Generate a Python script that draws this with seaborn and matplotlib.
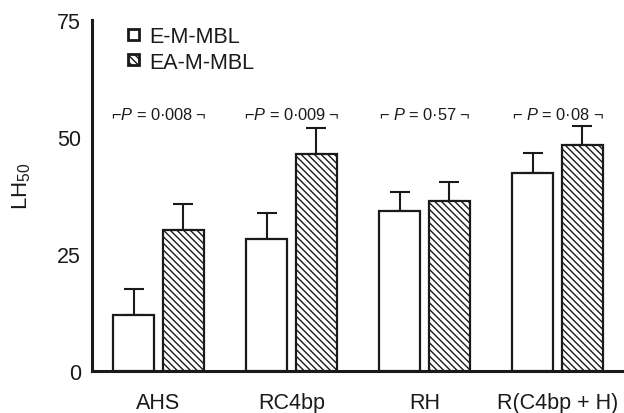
import matplotlib
matplotlib.use("Agg")
import matplotlib.pyplot as plt
import seaborn as sns
import pandas as pd
import numpy as np

# ---- data ----
groups = ["AHS", "RC4bp", "RH", "R(C4bp + H)"]
series_names = ["E-M-MBL", "EA-M-MBL"]
e_values = [12.0, 28.2, 34.2, 42.2]
e_errors = [5.5, 5.5, 4.1, 4.3]
ea_values = [30.0, 46.3, 36.2, 48.3]
ea_errors = [5.6, 5.5, 4.1, 4.0]
p_labels = ["⌐$\\it{P}$ = 0·008\u2009¬", "⌐$\\it{P}$ = 0·009\u2009¬",
            "⌐ $\\it{P}$ = 0·57 ¬", "⌐ $\\it{P}$ = 0·08 ¬"]
p_y = 55
y_major = [0, 25, 50, 75]

sns.set_theme(style="white")
plt.rcParams["font.family"] = ["Liberation Sans", "DejaVu Sans"]
plt.rcParams["mathtext.fontset"] = "custom"
plt.rcParams["mathtext.rm"] = "Liberation Sans"
plt.rcParams["mathtext.it"] = "Liberation Sans:italic"
plt.rcParams["mathtext.default"] = "regular"
plt.rcParams["hatch.color"] = "#1a1a1a"
plt.rcParams["hatch.linewidth"] = 1.0

df = pd.DataFrame({
    "group": groups * 2,
    "series": [series_names[0]] * 4 + [series_names[1]] * 4,
    "value": e_values + ea_values,
})

fig = plt.figure(figsize=(6.24, 4.14), dpi=100)
ax = fig.add_axes([92 / 624, 42.3 / 414, 532 / 624, 350.7 / 414])

sns.barplot(data=df, x="group", y="value", hue="series", order=groups,
            hue_order=series_names, palette=["white", "white"],
            edgecolor="#1a1a1a", linewidth=1.6, width=0.75, gap=0.165,
            errorbar=None, legend=False, ax=ax, zorder=3)

hatches = ["", "\\\\\\\\\\"]
errs = [e_errors, ea_errors]
for cont, h, er in zip(ax.containers, hatches, errs):
    xs, ys = [], []
    for p in cont.patches:
        p.set_hatch(h)
        xs.append(p.get_x() + p.get_width() / 2)
        ys.append(p.get_height())
    ax.errorbar(xs, ys, yerr=[np.zeros(len(er)), er], fmt="none",
                ecolor="#1a1a1a", elinewidth=1.5, capsize=7, capthick=1.5,
                zorder=2)

# P-value annotations
for i, lab in enumerate(p_labels):
    ax.text(i, p_y, lab, ha="center", va="center",
            fontsize=11.8, color="#1a1a1a",
            family=["Liberation Sans", "DejaVu Sans"])

ax.set_xlim(-0.5, 3.5)
ax.set_ylim(0, 75)
ax.set_yticks(y_major)
ax.set_yticks(np.arange(0, 76, 5), minor=True)
ax.set_xticks([0.5, 1.5, 2.5], minor=True)
ax.set_xticks(range(len(groups)))
ax.set_xticklabels(groups)
ax.tick_params(axis="x", which="major", length=0, pad=15, labelsize=15.5,
               colors="#1a1a1a")
ax.tick_params(axis="x", which="minor", direction="in", length=6, width=1.3,
               color="#1a1a1a")
ax.tick_params(axis="y", which="both", direction="in", length=7, width=1.3,
               color="#1a1a1a")
ax.tick_params(axis="y", which="major", pad=8, labelsize=15.5,
               labelcolor="#1a1a1a")

for s in ["top", "right"]:
    ax.spines[s].set_visible(False)
for s in ["left", "bottom"]:
    ax.spines[s].set_linewidth(2.2)
    ax.spines[s].set_color("#1a1a1a")

ax.set_xlabel("")
ax.set_ylabel("LH$_{50}$", fontsize=16, color="#1a1a1a")
ax.yaxis.set_label_coords(-0.111, 0.53)

leg = ax.legend(handles=[ax.containers[0], ax.containers[1]],
                labels=series_names, loc="upper left",
                bbox_to_anchor=(0.04, 1.025), frameon=False, fontsize=15.5,
                handlelength=0.5, handleheight=0.42, handletextpad=0.45,
                labelspacing=0.2, borderpad=0.2)
for t in leg.get_texts():
    t.set_color("#1a1a1a")
for hnd in leg.legend_handles:
    hnd.set_linewidth(2.0)

fig.savefig("out.png", dpi=100)
